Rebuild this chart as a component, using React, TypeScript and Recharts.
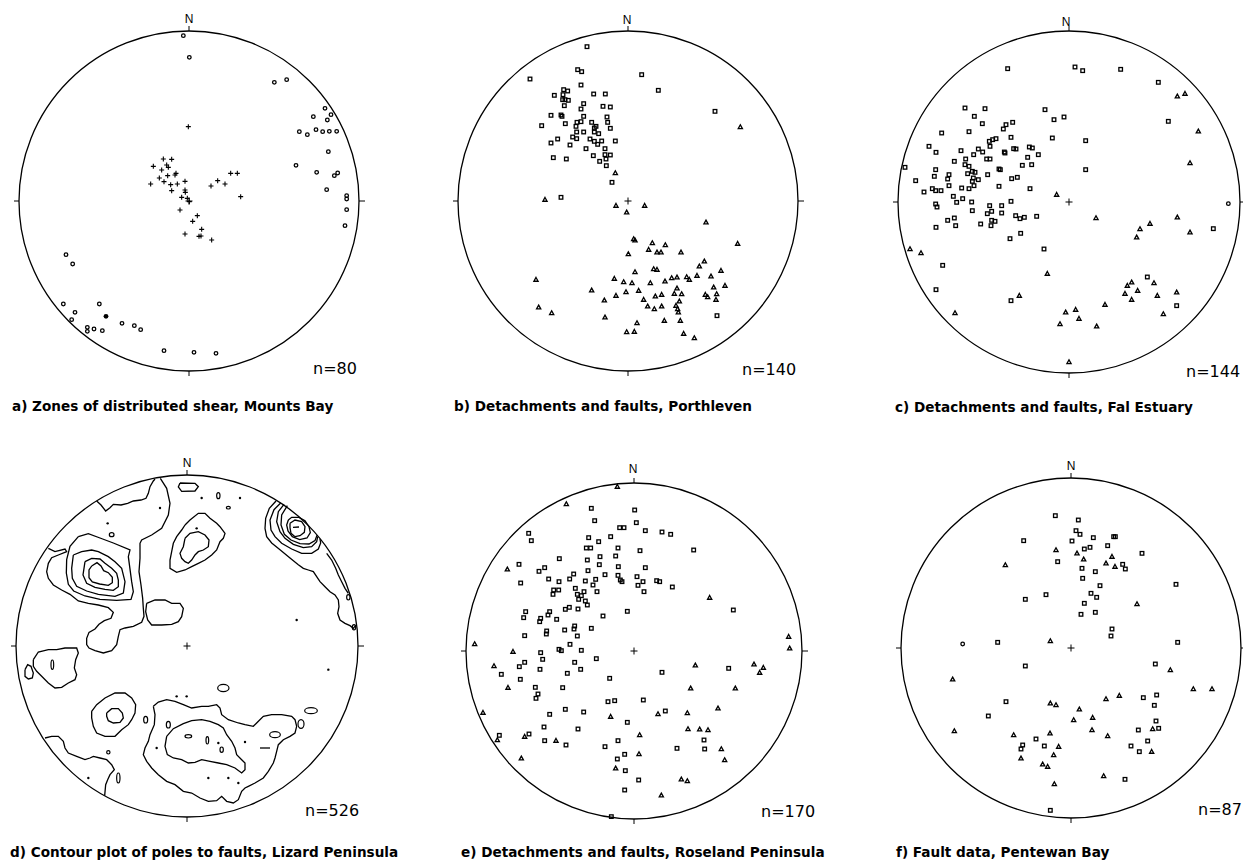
import React from 'react';
import { ScatterChart, Scatter, XAxis, YAxis, ReferenceDot, ReferenceLine } from 'recharts';

// point = [east, north] in net units (net radius = 3 x pixel radius)
type P = [number, number];
type O = [number, number, number, number]; // x, y, rx, ry

// ---- a) Zones of distributed shear, Mounts Bay
const aCircles: P[] = [
  [-17, 496], [1, 431], [256, 356], [293, 364], [408, 278], [426, 259], [373, 253], [415, 243],
  [331, 208], [355, 199], [381, 214], [401, 208], [421, 209], [443, 209], [418, 148], [321, 107],
  [383, 86], [436, 76], [446, 84], [413, 34], [473, 16], [473, 6], [473, -26], [468, -74],
  [-369, -161], [-349, -189], [-377, -309], [-269, -309], [-342, -334], [-352, -356], [-305, -379],
  [-305, -391], [-285, -384], [-260, -389], [-201, -367], [-164, -374], [-145, -386], [-75, -449],
  [15, -454], [81, -457],
];
const aFilled: P[] = [[-249, -346]];
const aCrosses: P[] = [
  [-2, 223], [-77, 126], [-52, 125], [-107, 104], [-67, 108], [-62, 101], [-82, 93], [-39, 83],
  [-42, 78], [-89, 69], [-64, 76], [-75, 58], [-115, 51], [-55, 49], [-35, 51], [-12, 59],
  [-52, 31], [-12, 33], [-11, 26], [-22, 11], [-5, 8], [1, -2], [-27, -27], [25, -44], [11, -61],
  [38, -85], [-12, -99], [30, -106], [36, -105], [68, -117], [66, 45], [86, 61], [108, 51],
  [125, 83], [145, 83], [155, 13],
];

// ---- b) Detachments and faults, Porthleven
const bSquares: P[] = [
  [-123, 463], [-294, 366], [-151, 394], [-139, 388], [41, 379], [-141, 348], [91, 332], [-193, 334],
  [-181, 330], [-221, 317], [-103, 321], [-68, 321], [-195, 319], [-189, 304], [-179, 302], [-196, 304],
  [-191, 286], [-133, 292], [-141, 276], [-75, 284], [-53, 282], [-231, 257], [-201, 258], [-198, 254],
  [-133, 254], [-63, 252], [-259, 226], [-188, 232], [-153, 236], [-141, 238], [-156, 224], [-109, 236],
  [-96, 224], [-101, 219], [-61, 236], [-53, 218], [-166, 192], [-154, 207], [-154, 187], [-133, 207],
  [-101, 207], [-88, 202], [-231, 174], [-211, 186], [-174, 168], [-114, 186], [-101, 179], [-91, 170],
  [-79, 180], [-38, 180], [-126, 157], [-69, 157], [-224, 130], [-185, 126], [-104, 136], [-69, 139],
  [-53, 138], [-66, 126], [-85, 119], [-65, 106], [-48, 56], [-201, 11], [261, 269], [267, -344],
];
const bTriangles: P[] = [
  [337, 222], [-38, 84], [-249, 4], [-36, -14], [-4, -34], [50, -14], [234, -64], [329, -128],
  [17, -114], [21, -118], [73, -126], [112, -132], [1, -159], [62, -146], [87, -154], [99, -154],
  [159, -154], [229, -181], [214, -196], [77, -204], [87, -206], [21, -213], [279, -209], [-41, -233],
  [-13, -243], [12, -246], [67, -246], [111, -241], [131, -231], [147, -229], [176, -228], [184, -236],
  [207, -224], [249, -226], [-276, -236], [-109, -268], [-36, -284], [-6, -273], [32, -269], [82, -286],
  [101, -281], [139, -278], [147, -262], [161, -279], [257, -259], [291, -254], [232, -281], [239, -288],
  [266, -279], [264, -296], [-71, -298], [47, -296], [59, -316], [79, -324], [101, -316], [144, -314],
  [154, -301], [149, -324], [151, -334], [-268, -319], [-229, -336], [-69, -349], [27, -366], [109, -359],
  [157, -359], [-4, -393], [19, -392], [167, -398], [199, -411],
];

// ---- c) Detachments and faults, Fal Estuary
const cSquares: P[] = [
  [-184, 400], [18, 405], [41, 394], [155, 398], [268, 359], [298, 242], [-312, 282], [-252, 280],
  [-284, 257], [-260, 235], [-72, 277], [-45, 247], [-15, 255], [-169, 239], [-189, 232], [-197, 219],
  [-382, 207], [-300, 211], [-174, 194], [-239, 182], [-229, 187], [-219, 190], [-50, 192], [50, 184],
  [-420, 167], [-399, 149], [-324, 154], [-310, 129], [-286, 142], [-272, 159], [-259, 150], [-247, 129],
  [-237, 129], [-237, 167], [-194, 150], [-192, 147], [-166, 160], [-159, 159], [-119, 165], [-110, 162],
  [-92, 142], [-124, 134], [-344, 122], [-312, 112], [-300, 107], [-290, 92], [-282, 89], [-304, 85],
  [-140, 110], [-112, 112], [-492, 104], [-400, 97], [-210, 99], [-206, 97], [50, 97], [-460, 64],
  [-404, 77], [-360, 82], [-364, 69], [-360, 49], [-287, 72], [-290, 62], [-272, 67], [-244, 82],
  [-172, 70], [-155, 74], [-285, 49], [-322, 42], [-300, 40], [-210, 47], [-117, 40], [-435, 30],
  [-410, 40], [-400, 34], [-384, 34], [-347, 17], [-337, -1], [-319, 10], [-292, 0], [-174, 2],
  [-400, -6], [-396, -15], [-238, -11], [-202, -11], [-290, -26], [-245, -35], [-232, -28], [-202, -33],
  [-160, -41], [-147, -50], [-134, -46], [-97, -43], [-364, -55], [-344, -48], [-340, -71], [-265, -66],
  [-232, -55], [-222, -58], [-234, -71], [-399, -76], [-177, -110], [-145, -94], [-75, -141], [-379, -190],
  [-399, -263], [-174, -296], [235, -225], [323, -311], [433, -80],
];
const cCircles: P[] = [[478, -5]];
const cTriangles: P[] = [
  [325, 317], [348, 325], [388, 212], [363, 117], [-37, 22], [81, -48], [325, -46], [243, -65],
  [213, -81], [203, -106], [363, -91], [-477, -141], [-444, -153], [-65, -215], [-149, -281], [-342, -333],
  [175, -251], [188, -241], [206, -266], [168, -275], [188, -293], [255, -243], [265, -281], [323, -271],
  [283, -336], [108, -308], [-10, -331], [20, -323], [30, -350], [-27, -366], [83, -373], [0, -480],
];

// ---- d) Contour plot of poles to faults, Lizard Peninsula
const dOuterNW: P[] = [
  [-416, 293], [-396, 283], [-366, 291], [-361, 283], [-386, 273], [-406, 265], [-416, 248], [-421, 223],
  [-416, 203], [-401, 183], [-376, 168], [-351, 155], [-326, 135], [-296, 128], [-266, 123], [-236, 115],
  [-221, 101], [-228, 83], [-248, 76], [-264, 65], [-276, 51], [-294, 41], [-301, 23], [-301, 4],
  [-294, -6], [-276, -14], [-251, -21], [-226, -14], [-211, 4], [-206, 29], [-201, 49], [-186, 54],
  [-161, 59], [-136, 71], [-129, 89], [-131, 113], [-133, 143], [-138, 183], [-144, 223], [-141, 263],
  [-141, 308], [-136, 318], [-106, 333], [-76, 353], [-56, 393], [-51, 428], [-61, 473], [-80, 503],
];
const dRimNW: P[] = [
  [-271, 435], [-258, 423], [-244, 405], [-231, 415], [-221, 425], [-198, 423], [-178, 428], [-161, 435],
  [-138, 438], [-123, 443], [-116, 458], [-111, 478], [-101, 495], [-96, 501],
];
const dPeak1: P[] = [
  [-326, 328], [-296, 337], [-261, 324], [-221, 309], [-171, 288], [-176, 268], [-166, 193], [-161, 163],
  [-168, 140], [-211, 137], [-261, 140], [-306, 150], [-340, 165], [-356, 185], [-362, 219], [-361, 259],
  [-351, 299], [-326, 328],
];
const dPeak2: P[] = [
  [-341, 273], [-316, 283], [-286, 288], [-266, 283], [-236, 268], [-216, 253], [-196, 233], [-186, 193],
  [-191, 159], [-216, 149], [-266, 155], [-301, 165], [-331, 179], [-344, 203], [-346, 233], [-341, 273],
];
const dPeak3: P[] = [
  [-306, 253], [-286, 263], [-261, 261], [-246, 248], [-226, 233], [-211, 218], [-206, 198], [-206, 178],
  [-221, 167], [-246, 170], [-276, 176], [-301, 188], [-312, 213], [-306, 253],
];
const dPeak4: P[] = [
  [-286, 240], [-270, 250], [-258, 240], [-250, 226], [-236, 220], [-224, 206], [-224, 190], [-236, 182],
  [-262, 186], [-284, 192], [-294, 205], [-294, 228], [-286, 240],
];
const dTopLoop: P[] = [[-21, 489], [24, 488], [34, 478], [24, 465], [-16, 464], [-26, 477], [-21, 489]];
const dIslandN: P[] = [
  [-6, 363], [9, 378], [34, 398], [54, 398], [69, 383], [89, 368], [99, 358], [114, 338], [109, 323],
  [99, 313], [89, 288], [74, 273], [54, 258], [34, 248], [14, 238], [-6, 228], [-31, 221], [-51, 233],
  [-51, 258], [-46, 283], [-41, 308], [-31, 328], [-16, 348], [-6, 363],
];
const dIslandNInner: P[] = [
  [-6, 323], [9, 338], [34, 343], [54, 333], [66, 318], [64, 298], [49, 288], [34, 283], [24, 273],
  [14, 258], [4, 248], [-6, 253], [-16, 263], [-21, 278], [-11, 298], [-6, 323],
];
const dEast1: P[] = [
  [267, 435], [247, 413], [236, 383], [234, 353], [239, 328], [254, 309], [279, 289], [309, 264],
  [334, 244], [349, 233], [364, 228], [379, 223], [389, 208], [399, 193], [414, 178], [429, 163],
  [444, 153], [454, 138], [456, 118], [452, 98], [459, 78], [474, 68], [489, 61], [499, 53], [506, 62],
];
const dEast2: P[] = [[419, 278], [434, 258], [446, 233], [454, 213], [464, 193], [474, 173], [484, 158]];
const dNE2: P[] = [
  [281, 429], [261, 409], [249, 378], [252, 348], [264, 328], [284, 308], [314, 291], [344, 278],
  [374, 278], [394, 291], [401, 309], [399, 321],
];
const dNE3: P[] = [
  [291, 425], [274, 403], [269, 373], [279, 343], [294, 323], [319, 305], [349, 295], [374, 298],
  [389, 313], [392, 328],
];
const dNE4: P[] = [
  [301, 421], [284, 393], [282, 363], [292, 335], [312, 318], [339, 307], [366, 306], [384, 316], [390, 332],
];
const dNE5: P[] = [
  [304, 378], [314, 386], [336, 386], [354, 376], [366, 358], [370, 340], [360, 324], [338, 319],
  [316, 328], [303, 345], [299, 363], [304, 378],
];
const dNE6: P[] = [
  [309, 368], [324, 378], [344, 373], [354, 358], [352, 341], [339, 331], [324, 328], [312, 338],
  [309, 355], [309, 368],
];
const dNETick: P[] = [[318, 356], [336, 357]];
const dBox: P[] = [
  [-121, 128], [-96, 138], [-66, 138], [-46, 128], [-21, 128], [-11, 113], [-16, 88], [-26, 73],
  [-46, 65], [-76, 63], [-106, 63], [-118, 78], [-124, 103], [-121, 128],
];
const dWest1: P[] = [
  [-461, -41], [-446, -18], [-416, -11], [-391, -11], [-366, -6], [-331, -6], [-326, -21], [-334, -41],
  [-338, -66], [-331, -86], [-336, -101], [-356, -111], [-376, -124], [-396, -126], [-416, -111],
  [-436, -91], [-451, -76], [-461, -61], [-461, -41],
];
const dWest2: P[] = [[-486, -71], [-478, -56], [-468, -61], [-461, -81], [-464, -96], [-476, -99], [-486, -91], [-486, -71]];
const dSW1: P[] = [
  [-286, -196], [-271, -176], [-246, -156], [-216, -141], [-186, -141], [-166, -156], [-154, -176],
  [-156, -201], [-166, -221], [-176, -236], [-196, -251], [-216, -271], [-246, -271], [-271, -261],
  [-281, -241], [-286, -216], [-286, -196],
];
const dSW1Inner: P[] = [
  [-241, -201], [-226, -188], [-206, -188], [-194, -201], [-191, -216], [-201, -229], [-221, -231],
  [-236, -224], [-241, -211], [-241, -201],
];
const dRimSW: P[] = [
  [-426, -276], [-406, -271], [-386, -271], [-371, -286], [-366, -306], [-356, -321], [-331, -331],
  [-306, -341], [-291, -336], [-281, -331], [-261, -336], [-241, -341], [-226, -356], [-218, -371],
  [-231, -386], [-238, -401], [-244, -416], [-247, -449],
];
const dSouth1: P[] = [
  [-101, -181], [-96, -206], [-98, -236], [-111, -266], [-116, -286], [-126, -306], [-131, -326],
  [-121, -346], [-106, -366], [-86, -386], [-61, -406], [-36, -416], [-11, -436], [14, -441], [39, -456],
  [64, -466], [89, -464], [104, -451], [119, -466], [139, -471], [154, -461], [164, -436], [174, -426],
  [184, -421], [204, -411], [229, -396], [244, -376], [259, -351], [264, -336], [269, -316], [274, -296],
  [289, -281], [309, -271], [324, -261], [329, -241], [324, -221], [314, -211], [284, -206], [254, -206],
  [229, -211], [209, -231], [199, -241], [174, -236], [154, -231], [124, -221], [104, -206], [99, -186],
  [89, -176], [64, -181], [44, -181], [14, -186], [-11, -176], [-36, -166], [-61, -161], [-86, -168],
  [-101, -181],
];
const dSouth2: P[] = [
  [-61, -271], [-41, -248], [-11, -233], [14, -224], [44, -221], [69, -226], [94, -236], [109, -246],
  [119, -266], [134, -286], [144, -306], [149, -326], [164, -341], [174, -351], [174, -371], [164, -381],
  [144, -366], [119, -356], [94, -351], [69, -346], [44, -341], [24, -349], [4, -351], [-16, -341],
  [-41, -336], [-59, -326], [-66, -301], [-61, -271],
];
const dDash: P[] = [[219, -306], [249, -306]];
const dOvals: O[] = [
  [-226, 334, 7, 6], [94, 451, 5, 9], [124, 415, 6, 4], [484, 146, 5, 8], [501, 56, 5, 8],
  [-404, -56, 4, 14], [-56, -236, 6, 10], [4, -271, 10, 5], [61, -283, 4, 11],
  [104, -311, 5, 8], [-124, -221, 6, 10], [109, -126, 17, 11], [372, -194, 19, 9], [342, -234, 9, 13],
  [264, -266, 16, 9], [-206, -396, 5, 15], [-236, -319, 5, 5],
];
const dDots: P[] = [
  [44, 444], [159, 444], [-238, 368], [-81, 414], [29, 353], [329, 78], [424, -71], [-31, -151],
  [-1, -151], [174, -288], [94, -291], [124, -396], [64, -396], [154, -411], [-296, -396], [-91, -306],
];
const dContours: P[][] = [
  dOuterNW, dRimNW, dPeak1, dPeak2, dPeak3, dPeak4, dTopLoop, dIslandN, dIslandNInner, dEast1, dEast2,
  dNE2, dNE3, dNE4, dNE5, dNE6, dNETick, dBox, dWest1, dWest2, dSW1, dSW1Inner, dRimSW, dSouth1,
  dSouth2, dDash,
];

// ---- e) Detachments and faults, Roseland Peninsula
const eSquares: P[] = [
  [-128, 428], [2, 423], [-118, 391], [7, 385], [-43, 370], [-30, 370], [34, 361], [84, 357], [110, 350],
  [-316, 353], [-308, 331], [-136, 340], [-106, 328], [-70, 343], [-143, 309], [-130, 309], [-48, 309],
  [18, 301], [179, 303], [-140, 273], [-102, 283], [-55, 285], [-224, 277], [-345, 260], [-285, 239],
  [-268, 250], [-138, 241], [-104, 259], [-47, 253], [34, 250], [-340, 204], [-256, 216], [-225, 208],
  [-193, 216], [-181, 231], [-146, 210], [-123, 198], [-115, 215], [-87, 229], [-48, 227], [-41, 213],
  [-36, 208], [9, 223], [27, 208], [12, 197], [68, 211], [77, 208], [115, 192], [-241, 183], [-226, 183],
  [-243, 170], [-176, 188], [-150, 178], [-170, 170], [-158, 166], [-111, 178], [30, 178], [-146, 150],
  [-140, 138], [-166, 155], [-168, 126], [-194, 131], [-206, 125], [-325, 118], [-331, 100], [-280, 98],
  [-283, 88], [-253, 118], [-258, 108], [-232, 95], [-93, 105], [-20, 119], [298, 123], [-328, 46],
  [-262, 60], [-263, 51], [-208, 63], [-178, 75], [-180, 66], [-170, 45], [-128, 68], [-225, 5], [-218, 1],
  [-192, 20], [-158, 2], [-280, -5], [-274, -25], [-113, -23], [-328, -34], [-344, -47], [-282, -55],
  [-178, -34], [-200, -67], [-160, -55], [-398, -70], [-341, -85], [-73, -82], [84, -64], [284, -52],
  [-296, -109], [-214, -110], [-288, -129], [-294, -142], [-78, -152], [-58, -149], [28, -147],
  [-206, -175], [-151, -183], [-253, -190], [94, -180], [-20, -214], [-270, -228], [-168, -234],
  [-404, -253], [-315, -249], [-268, -269], [-204, -282], [-87, -287], [-48, -269], [-28, -310],
  [-50, -324], [-26, -359], [14, -387], [-28, -417], [129, -292], [210, -267], [212, -294], [-68, -497],
];
const eTriangles: P[] = [
  [-50, 493], [-203, 441], [-380, 245], [227, 160], [-478, 21], [-363, -2], [464, 43], [467, 8],
  [-420, -45], [184, -43], [360, -40], [377, -65], [388, -50], [-378, -110], [170, -112], [304, -112],
  [-453, -185], [-70, -197], [72, -189], [160, -186], [252, -172], [162, -234], [197, -235], [222, -237],
  [17, -252], [-410, -267], [-328, -257], [-234, -269], [-338, -322], [15, -309], [262, -294], [272, -327],
  [-55, -352], [142, -385], [160, -390], [82, -433],
];

// ---- f) Fault data, Pentewan Bay
const fSquares: P[] = [
  [-47, 397], [22, 384], [15, 352], [27, 341], [3, 321], [67, 331], [128, 334], [133, 334], [-142, 322],
  [40, 297], [57, 302], [110, 307], [213, 284], [-40, 259], [155, 251], [163, 237], [33, 239], [73, 229],
  [35, 209], [87, 187], [315, 191], [-75, 160], [-137, 146], [60, 164], [77, 152], [40, 134], [73, 107],
  [30, 101], [123, 57], [120, 36], [-220, 17], [320, 17], [-137, -54], [253, -48], [-195, -161],
  [-248, -204], [217, -149], [257, -141], [250, -172], [255, -219], [263, -241], [202, -246], [-105, -273],
  [-145, -291], [-150, -303], [-80, -294], [230, -279], [180, -294], [205, -311], [162, -394], [-62, -487],
];
const fCircles: P[] = [[-325, 12]];
const fTriangles: P[] = [
  [-45, 294], [18, 284], [38, 266], [123, 274], [105, 254], [132, 244], [-197, 249], [198, 132],
  [-62, 21], [298, -66], [-355, -94], [367, -123], [423, -123], [-62, -166], [-45, -171], [105, -153],
  [145, -143], [25, -184], [65, -209], [8, -216], [63, -246], [110, -264], [-350, -249], [-172, -261],
  [-63, -256], [-37, -296], [-52, -321], [-150, -331], [-85, -349], [-70, -356], [245, -243], [242, -311],
  [-50, -408], [98, -384],
];

const captions = [
  { t: 'a) Zones of distributed shear, Mounts Bay', x: 12, y: 399 },
  { t: 'b) Detachments and faults, Porthleven', x: 454, y: 399 },
  { t: 'c) Detachments and faults, Fal Estuary', x: 895, y: 400 },
  { t: 'd) Contour plot of poles to faults, Lizard Peninsula', x: 10, y: 845 },
  { t: 'e) Detachments and faults, Roseland Peninsula', x: 461, y: 845 },
  { t: 'f) Fault data, Pentewan Bay', x: 896, y: 845 },
];
const counts = [
  { t: 'n=80', x: 313, y: 361 },
  { t: 'n=140', x: 742, y: 362 },
  { t: 'n=144', x: 1186, y: 364 },
  { t: 'n=526', x: 305, y: 803 },
  { t: 'n=170', x: 761, y: 804 },
  { t: 'n=87', x: 1198, y: 802 },
];
const norths = [
  { x: 189, y: 13 }, { x: 627, y: 14 }, { x: 1066, y: 16 },
  { x: 187, y: 457 }, { x: 633, y: 463 }, { x: 1071, y: 460 },
];

const INK = '#000';
const pts = (a: P[]) => a.map(([x, y]) => ({ x, y }));

const OpenCircle = (p: any) => <circle cx={p.cx} cy={p.cy} r={1.8} fill="none" stroke={INK} strokeWidth={1.3} />;
const FilledCircle = (p: any) => <circle cx={p.cx} cy={p.cy} r={2.4} fill={INK} />;
const Dot = (p: any) => <circle cx={p.cx} cy={p.cy} r={1.2} fill={INK} />;
const Cross = (p: any) => (
  <path d={`M${p.cx - 2.5},${p.cy}h5M${p.cx},${p.cy - 2.5}v5`} stroke={INK} strokeWidth={1.1} />
);
const Center = (p: any) => (
  <path d={`M${p.cx - 3.5},${p.cy}h7M${p.cx},${p.cy - 3.5}v7`} stroke={INK} strokeWidth={1} />
);
const Square = (p: any) => (
  <rect x={p.cx - 1.8} y={p.cy - 1.8} width={3.6} height={3.6} fill="none" stroke={INK} strokeWidth={1.3} />
);
const Tri = (p: any) => (
  <path d={`M${p.cx},${p.cy - 2.2}L${p.cx + 2.1},${p.cy + 1.6}L${p.cx - 2.1},${p.cy + 1.6}Z`}
    fill="none" stroke={INK} strokeWidth={1.3} />
);
const Oval = (p: any) => {
  const d = p.payload ?? p;
  if (!d.rx) return <g />;
  return <ellipse cx={p.cx} cy={p.cy} rx={d.rx / 3} ry={d.ry / 3} fill="none" stroke={INK} strokeWidth={1.2} />;
};
const Empty = () => <g />;

type Layer = { data: P[]; shape: (p: any) => React.ReactElement };

function Net({ cx, cy, r, layers, lines = [], ovals = [] }:
  { cx: number; cy: number; r: number; layers: Layer[]; lines?: P[][]; ovals?: O[] }) {
  const R = r * 3;
  const m = 14;
  const size = 2 * r + 2 * m;
  const t = 15;
  return (
    <div style={{ position: 'absolute', left: cx - r - m, top: cy - r - m }}>
      <ScatterChart width={size} height={size} margin={{ top: m, right: m, bottom: m, left: m }}>
        <XAxis type="number" dataKey="x" domain={[-R, R]} hide allowDataOverflow />
        <YAxis type="number" dataKey="y" domain={[-R, R]} hide allowDataOverflow />
        <ReferenceDot x={0} y={0} r={r} fill="none" stroke="#000" strokeWidth={1.3} ifOverflow="visible" />
        <ReferenceLine segment={[{ x: 0, y: R }, { x: 0, y: R + t }]} stroke="#000" strokeWidth={1} ifOverflow="visible" />
        <ReferenceLine segment={[{ x: 0, y: -R }, { x: 0, y: -R - t }]} stroke="#000" strokeWidth={1} ifOverflow="visible" />
        <ReferenceLine segment={[{ x: R, y: 0 }, { x: R + t + 3, y: 0 }]} stroke="#000" strokeWidth={1} ifOverflow="visible" />
        <ReferenceLine segment={[{ x: -R, y: 0 }, { x: -R - t, y: 0 }]} stroke="#000" strokeWidth={1} ifOverflow="visible" />
        {lines.map((l, i) => (
          <Scatter key={`l${i}`} data={pts(l)} shape={Empty} line={{ stroke: INK, strokeWidth: 1.3 }}
            lineType="joint" isAnimationActive={false} />
        ))}
        {ovals.length > 0 && (
          <Scatter data={ovals.map(([x, y, rx, ry]) => ({ x, y, rx, ry }))} shape={Oval} isAnimationActive={false} />
        )}
        {layers.map((ly, i) => (
          <Scatter key={`p${i}`} data={pts(ly.data)} shape={ly.shape} isAnimationActive={false} />
        ))}
        <Scatter data={[{ x: 0, y: 0 }]} shape={Center} isAnimationActive={false} />
      </ScatterChart>
    </div>
  );
}

export default function App() {
  return (
    <div style={{ position: 'absolute', left: 0, top: 0, width: 1243, height: 860, overflow: 'hidden', background: '#fff' }}>
      <Net cx={189} cy={200.5} r={170} layers={[
        { data: aCircles, shape: OpenCircle }, { data: aFilled, shape: FilledCircle }, { data: aCrosses, shape: Cross },
      ]} />
      <Net cx={627.7} cy={201.3} r={170} layers={[{ data: bSquares, shape: Square }, { data: bTriangles, shape: Tri }]} />
      <Net cx={1068.7} cy={202.3} r={171} layers={[
        { data: cSquares, shape: Square }, { data: cCircles, shape: OpenCircle }, { data: cTriangles, shape: Tri },
      ]} />
      <Net cx={187} cy={646.3} r={171} layers={[{ data: dDots, shape: Dot }]} lines={dContours} ovals={dOvals} />
      <Net cx={633.5} cy={651} r={168} layers={[{ data: eSquares, shape: Square }, { data: eTriangles, shape: Tri }]} />
      <Net cx={1071.3} cy={648} r={170} layers={[
        { data: fSquares, shape: Square }, { data: fCircles, shape: OpenCircle }, { data: fTriangles, shape: Tri },
      ]} />
      {captions.map((c) => (
        <div key={c.t} style={{
          position: 'absolute', left: c.x, top: c.y, fontFamily: '"DejaVu Sans", sans-serif', fontWeight: 700,
          fontSize: 13.6, lineHeight: '15px', whiteSpace: 'nowrap', color: '#000',
        }}>{c.t}</div>
      ))}
      {counts.map((c) => (
        <div key={c.t} style={{
          position: 'absolute', left: c.x, top: c.y, fontFamily: '"DejaVu Sans", sans-serif',
          fontSize: 16, lineHeight: '16px', whiteSpace: 'nowrap', color: '#000',
        }}>{c.t}</div>
      ))}
      {norths.map((n, i) => (
        <div key={i} style={{
          position: 'absolute', left: n.x, top: n.y, transform: 'translateX(-50%)',
          fontFamily: '"Liberation Sans Narrow", "Liberation Sans", sans-serif', fontSize: 12,
          lineHeight: '12px', color: '#000',
        }}>N</div>
      ))}
    </div>
  );
}
